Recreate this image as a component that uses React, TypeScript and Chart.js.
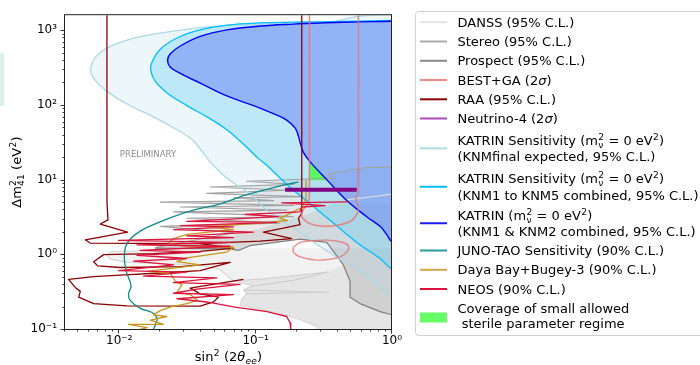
import React, { useEffect, useRef } from "react";
import { Chart, registerables } from "chart.js";

Chart.register(...registerables);

type Pt = [number, number];

// ---------------- axes ----------------
const X_RANGE: Pt = [0.004, 1];
const Y_RANGE: Pt = [0.1, 1590];
const xMajorTicks = [0.01, 0.1, 1];
const yMajorTicks = [0.1, 1, 10, 100, 1000];
const preliminaryPos: Pt = [0.0101, 21.6];

// ---------------- KATRIN ----------------
const katrinFinal: Pt[] = [
  [1.144, 1627], [0.567, 1532], [0.323, 1233], [0.224, 1257], [0.108, 1208], [0.0464, 1115],
  [0.02, 915], [0.0114, 735], [0.00726, 504], [0.0062, 323], [0.00649, 228], [0.00812, 153],
  [0.0114, 103], [0.0178, 69.3], [0.0265, 46.6], [0.0341, 34.6], [0.0392, 25.7], [0.0464, 17.3],
  [0.0615, 10.5], [0.0911, 6.4], [0.121, 3.89], [0.212, 1.95], [0.372, 0.971], [0.583, 0.591],
  [0.817, 0.36], [1.0, 0.262], [1.144, 0.262],
];
const katrinKnm15: Pt[] = [
  [1.144, 1360], [0.273, 1295], [0.189, 1282], [0.108, 1257], [0.0615, 1172], [0.0392, 1010],
  [0.0265, 788], [0.02, 557], [0.0174, 374], [0.017, 292], [0.0184, 206], [0.0223, 146],
  [0.0313, 98], [0.0439, 69.3], [0.0615, 46.6], [0.0838, 28.4], [0.105, 19.1], [0.124, 14.9],
  [0.169, 8.62], [0.251, 4.75], [0.372, 2.62], [0.551, 1.444], [0.817, 0.879], [1.0, 0.634],
  [1.144, 0.634],
];
const katrinKnm12: Pt[] = [
  [1.144, 1361], [0.994, 1320], [0.583, 1295], [0.332, 1257], [0.189, 1208], [0.108, 1138],
  [0.0615, 1010], [0.0392, 828], [0.028, 615], [0.0236, 480], [0.0226, 393], [0.0236, 323],
  [0.028, 264], [0.0392, 196], [0.0615, 132], [0.0964, 98], [0.135, 76.5], [0.169, 62.7],
  [0.195, 48.9], [0.206, 38.2], [0.212, 31.3], [0.224, 23.2], [0.251, 17.3], [0.332, 10.0],
  [0.466, 5.25], [0.652, 3.19], [0.817, 2.37], [0.914, 1.85], [1.0, 1.473], [1.144, 1.473],
];
const coverage: Pt[] = [[0.2479, 17.8], [0.2479, 9.8], [0.336, 9.8]];

// ---------------- reactor / source experiments ----------------
const danssRegion: Pt[] = [
  [0.00812, 0.971], [0.00884, 1.093], [0.01687, 1.115], [0.0392, 1.16], [0.077, 1.207], [1.144, 1.207],
  [1.144, 0.0897], [0.2886, 0.0897], [0.2806, 0.1093], [0.2118, 0.1334], [0.1512, 0.1626],
  [0.1079, 0.1832], [0.077, 0.208], [0.0792, 0.254], [0.0861, 0.295], [0.0814, 0.332],
  [0.0964, 0.378], [0.0688, 0.439], [0.055, 0.621], [0.0392, 0.721], [0.02, 0.75],
  [0.01138, 0.78], [0.00859, 0.862],
];
const danssEdge: Pt[] = [
  [0.077, 1.207], [0.0392, 1.16], [0.01687, 1.115], [0.00884, 1.093], [0.00812, 0.971],
  [0.00859, 0.862], [0.01138, 0.78], [0.02, 0.75], [0.0392, 0.721], [0.055, 0.621],
  [0.0688, 0.439], [0.0964, 0.378], [0.0814, 0.332], [0.0861, 0.295], [0.0792, 0.254],
  [0.077, 0.208], [0.1079, 0.1832], [0.1512, 0.1626], [0.2118, 0.1334], [0.2806, 0.1093],
  [0.2886, 0.0897],
];
const danssSpikes: Pt[] = [
  [0.0688, 0.439], [0.1207, 0.475], [0.3416, 0.579], [0.1893, 0.448], [0.0964, 0.378],
  [0.0814, 0.332], [0.3416, 0.31], [0.0861, 0.295],
];
const danssHigh: Pt[] = [[0.465, 5.35], [0.652, 5.79], [1.0, 6.4]];
const stereoLow: Pt[] = [
  [0.0688, 0.439], [0.1207, 0.475], [0.3416, 0.579], [0.4399, 0.721], [0.4923, 0.439],
  [0.4923, 0.267], [0.5827, 0.219], [0.8168, 0.171], [1.0, 0.155], [1.144, 0.155],
  [1.144, 0.0897], [0.2886, 0.0897], [0.2806, 0.1093], [0.2118, 0.1334], [0.1512, 0.1626],
  [0.1079, 0.1832], [0.077, 0.208], [0.0792, 0.254], [0.0861, 0.295], [0.0814, 0.332],
  [0.0964, 0.378],
];
const stereoSpikes: Pt[] = [
  [1.144, 14.73], [0.634, 14.44], [0.3416, 11.84], [0.3717, 10.51], [0.0861, 9.515],
  [0.1893, 8.617], [0.0464, 7.96], [0.1691, 7.208], [0.0439, 6.526], [0.2118, 5.909],
  [0.0688, 5.679], [0.1351, 5.245], [0.02, 4.993], [0.1893, 4.52], [0.028, 4.3],
  [0.1691, 3.895], [0.025, 3.707], [0.1893, 3.194], [0.0313, 3.04], [0.1512, 2.619],
  [0.02, 2.371], [0.0688, 1.945], [0.0189, 1.244], [0.01835, 1.207],
];
const prospectEdge: Pt[] = [
  [0.01835, 1.207], [0.065, 1.184], [0.0748, 1.126], [0.0911, 1.307], [0.2118, 1.594],
  [0.3321, 1.444], [0.4399, 0.721], [0.4923, 0.439], [0.4923, 0.267], [0.5827, 0.219],
  [0.8168, 0.171], [1.0, 0.155],
];
const prospectRegion: Pt[] = [
  ...prospectEdge, [1.144, 0.155], [1.144, 4.75], [0.3717, 4.75], [0.2118, 3.194],
  [0.0688, 1.761], [0.02, 1.444],
];
const stereoRegion: Pt[] = [...stereoSpikes, ...prospectEdge, [1.144, 0.155]];

const raaLeft: Pt[] = [
  [0.00812, 2234], [0.00812, 5.245], [0.00826, 2.892], [0.00726, 2.542], [0.01151, 1.984],
  [0.00563, 1.563], [0.00613, 1.415], [0.0392, 1.387], [0.0688, 1.207], [0.0392, 1.093],
  [0.0178, 1.02], [0.00768, 0.99], [0.00649, 0.796], [0.00694, 0.7], [0.01017, 0.666],
  [0.028, 0.686], [0.065, 0.78], [0.0392, 0.603], [0.02, 0.562], [0.01017, 0.525],
  [0.00649, 0.504], [0.00425, 0.461], [0.00476, 0.36], [0.00518, 0.319], [0.00504, 0.267],
  [0.00649, 0.219], [0.01138, 0.204], [0.0392, 0.202], [0.0491, 0.23], [0.0534, 0.267],
  [0.0392, 0.295], [0.0331, 0.353], [0.0814, 0.461],
];
const raaRight: Pt[] = [
  [0.2179, 2234], [0.2179, 3.527], [0.206, 3.04], [0.2118, 2.493], [0.16, 2.234],
  [0.1141, 1.984], [0.1841, 1.626], [0.1079, 1.502], [0.0392, 1.387],
];
const bestMain: Pt[] = [
  [0.2479, 2234], [0.2479, 5.794], [0.2438, 4.993], [0.2305, 4.3], [0.2179, 3.527],
  [0.2216, 3.04], [0.2507, 2.567], [0.314, 2.371], [0.4159, 2.493], [0.5063, 2.835],
  [0.5571, 3.527], [0.5666, 4.52], [0.5447, 5.245], [0.5447, 5.794], [0.5666, 6.723],
  [0.5666, 2234],
];
const bestIsland: Pt[] = [
  [0.1893, 1.244], [0.2118, 1.444], [0.2652, 1.517], [0.3321, 1.547], [0.4159, 1.473],
  [0.4786, 1.307], [0.4654, 1.072], [0.4159, 0.924], [0.3513, 0.862], [0.2806, 0.837],
  [0.2118, 0.924], [0.1893, 1.072], [0.1893, 1.244],
];
const neos: Pt[] = [
  [0.4786, 5.041], [0.1555, 4.894], [0.3229, 4.476], [0.2179, 4.3], [0.2118, 3.707],
  [0.0837, 3.423], [0.147, 3.194], [0.0313, 2.753], [0.1429, 2.672], [0.028, 2.419],
  [0.0688, 2.325], [0.025, 2.147], [0.0964, 1.984], [0.0313, 1.761], [0.0688, 1.675],
  [0.00989, 1.532], [0.065, 1.444], [0.01347, 1.334], [0.065, 1.282], [0.01425, 1.126],
  [0.0392, 1.072], [0.01347, 0.971], [0.0313, 0.879], [0.01274, 0.812], [0.025, 0.721],
  [0.00989, 0.603], [0.0313, 0.579], [0.01508, 0.509], [0.0519, 0.485], [0.025, 0.418],
  [0.077, 0.397], [0.0371, 0.342], [0.025, 0.301], [0.0688, 0.289], [0.0265, 0.254],
  [0.0439, 0.23], [0.0688, 0.198], [0.121, 0.171], [0.169, 0.147], [0.179, 0.121],
  [0.181, 0.0942],
];
const dayaBayBugey: Pt[] = [
  [0.2344, 9.8], [0.2344, 5.511], [0.2179, 4.217], [0.1872, 3.67], [0.1512, 3.04],
  [0.171, 2.835], [0.1079, 2.619], [0.0439, 2.325], [0.0688, 2.147], [0.0313, 1.85],
  [0.025, 1.626], [0.023, 1.415], [0.0313, 1.269], [0.0688, 1.244], [0.0615, 1.072],
  [0.0313, 0.897], [0.0265, 0.796], [0.0392, 0.721], [0.016, 0.591], [0.0236, 0.562],
  [0.0257, 0.439], [0.0288, 0.39], [0.0265, 0.31], [0.0331, 0.289], [0.0375, 0.242],
  [0.0313, 0.219], [0.0239, 0.198], [0.02, 0.176], [0.0178, 0.155], [0.0223, 0.147],
  [0.0169, 0.131], [0.0211, 0.115], [0.0117, 0.115], [0.016, 0.104], [0.0127, 0.0942],
];
const junoTao: Pt[] = [
  [0.206, 9.237], [0.169, 8.617], [0.121, 7.426], [0.0814, 6.088], [0.055, 4.75],
  [0.035, 3.895], [0.025, 3.194], [0.0178, 2.493], [0.01425, 2.043], [0.012, 1.594],
  [0.0111, 1.244], [0.0109, 0.879], [0.01125, 0.591], [0.0122, 0.378], [0.0117, 0.295],
  [0.012, 0.242], [0.01425, 0.189], [0.0174, 0.166], [0.0189, 0.14], [0.0184, 0.115],
  [0.0177, 0.0942],
];
const neutrino4: Pt[] = [[0.1644, 7.31], [0.551, 7.31]];

// ---------------- text helpers ----------------
const FONT = '"DejaVu Sans", "Liberation Sans", sans-serif';
const SUP_MAP: Record<string, string> = {
  "-": "\u207B", "0": "\u2070", "1": "\u00B9", "2": "\u00B2", "3": "\u00B3",
};
const powLabel = (v: number) =>
  "10" + String(Math.round(Math.log10(v))).split("").map((c) => SUP_MAP[c] ?? c).join("");

type Seg = { t?: string; it?: boolean; sup?: string; sub?: string; subIt?: boolean };
const fnt = (size: number, it?: boolean) => `${it ? "italic " : ""}${size}px ${FONT}`;

function segsWidth(ctx: CanvasRenderingContext2D, segs: Seg[], size: number) {
  let w = 0;
  for (const s of segs) {
    if (s.t !== undefined) {
      ctx.font = fnt(size, s.it);
      w += ctx.measureText(s.t).width;
    } else {
      const small = size * 0.7;
      let sw = 0;
      if (s.sup) { ctx.font = fnt(small); sw = Math.max(sw, ctx.measureText(s.sup).width); }
      if (s.sub) { ctx.font = fnt(small, s.subIt); sw = Math.max(sw, ctx.measureText(s.sub).width); }
      w += sw + 0.6;
    }
  }
  return w;
}

function drawSegs(ctx: CanvasRenderingContext2D, segs: Seg[], x: number, y: number, size: number) {
  let cx = x;
  ctx.textAlign = "left";
  ctx.textBaseline = "alphabetic";
  for (const s of segs) {
    if (s.t !== undefined) {
      ctx.font = fnt(size, s.it);
      ctx.fillText(s.t, cx, y);
      cx += ctx.measureText(s.t).width;
    } else {
      const small = size * 0.7;
      let sw = 0;
      if (s.sup) {
        ctx.font = fnt(small);
        ctx.fillText(s.sup, cx + 0.3, y - size * 0.36);
        sw = Math.max(sw, ctx.measureText(s.sup).width);
      }
      if (s.sub) {
        ctx.font = fnt(small, s.subIt);
        ctx.fillText(s.sub, cx + 0.3, y + size * 0.24);
        sw = Math.max(sw, ctx.measureText(s.sub).width);
      }
      cx += sw + 0.6;
    }
  }
}

const katrinSensHead: Seg[] = [
  { t: "KATRIN Sensitivity (m" }, { sup: "2", sub: "\u03BD" }, { t: " = 0 eV" }, { sup: "2" }, { t: ")" },
];

type LegendEntry = { color?: string; patch?: string; lines: Seg[][]; base: number[] };
const legendEntries: LegendEntry[] = [
  { color: "#e2e2e2", lines: [[{ t: "DANSS (95% C.L.)" }]], base: [26.7] },
  { color: "#a9a9a9", lines: [[{ t: "Stereo (95% C.L.)" }]], base: [46] },
  { color: "#8a8a8a", lines: [[{ t: "Prospect (95% C.L.)" }]], base: [65.3] },
  { color: "#ec8a8a", lines: [[{ t: "BEST+GA (2" }, { t: "\u03C3", it: true }, { t: ")" }]], base: [84.5] },
  { color: "#8b0000", lines: [[{ t: "RAA (95% C.L.)" }]], base: [103.8] },
  { color: "#b048b8", lines: [[{ t: "Neutrino-4 (2" }, { t: "\u03C3", it: true }, { t: ")" }]], base: [123] },
  { color: "#add8e6", lines: [katrinSensHead, [{ t: "(KNMfinal expected, 95% C.L.)" }]], base: [144.5, 161.2] },
  { color: "#00bfff", lines: [katrinSensHead, [{ t: "(KNM1 to KNM5 combined, 95% C.L.)" }]], base: [183, 199.5] },
  {
    color: "#1a1aff",
    lines: [
      [{ t: "KATRIN (m" }, { sup: "2", sub: "\u03BD" }, { t: " = 0 eV" }, { sup: "2" }, { t: ")" }],
      [{ t: "(KNM1 & KNM2 combined, 95% C.L.)" }],
    ],
    base: [219.5, 236],
  },
  { color: "#2a9b9b", lines: [[{ t: "JUNO-TAO Sensitivity (90% C.L.)" }]], base: [255] },
  { color: "#d2a64c", lines: [[{ t: "Daya Bay+Bugey-3 (90% C.L.)" }]], base: [274.3] },
  { color: "#dc143c", lines: [[{ t: "NEOS (90% C.L.)" }]], base: [293.5] },
  { patch: "#66ff66", lines: [[{ t: "Coverage of small allowed" }], [{ t: " sterile parameter regime" }]], base: [312.7, 327.5] },
];

// ---------------- datasets ----------------
const toXY = (a: Pt[]) => a.map(([x, y]) => ({ x, y }));
const fillDs = (data: Pt[], color: string, tension = 0) => ({
  data: toXY(data), polyFill: color, showLine: false, pointRadius: 0, borderWidth: 0, fill: false,
  tension, capBezierPoints: false,
});
const lineDs = (data: Pt[], color: string, width = 1.3, tension = 0) => ({
  data: toXY(data), borderColor: color, borderWidth: width, pointRadius: 0, fill: false,
  tension, capBezierPoints: false, borderJoinStyle: "round", borderCapStyle: "butt",
});

const SMOOTH = 0.4;
const layersBottomToTop = [
  fillDs(danssRegion, "rgba(200,200,200,0.25)"),
  fillDs(stereoLow, "rgba(150,150,150,0.12)"),
  fillDs(prospectRegion, "rgba(128,128,128,0.18)"),
  fillDs(stereoRegion, "rgba(150,150,150,0.18)"),
  fillDs(katrinFinal, "rgba(173,216,230,0.22)", SMOOTH),
  fillDs(katrinKnm15, "rgba(100,205,240,0.35)", SMOOTH),
  fillDs(katrinKnm12, "rgba(112,137,245,0.55)", SMOOTH),
  fillDs(coverage, "rgba(70,255,70,0.85)"),
  lineDs(danssEdge, "#d6d6d6", 1.1),
  lineDs(danssSpikes, "#cfcfcf", 1.1),
  lineDs(danssHigh, "#dadada", 1.2),
  lineDs(stereoSpikes, "#a3a3a3", 1.2),
  lineDs(prospectEdge, "#7f7f7f", 1.2),
  lineDs(katrinFinal, "#add8e6", 1.3, SMOOTH),
  lineDs(katrinKnm15, "#00bfff", 1.3, SMOOTH),
  lineDs(katrinKnm12, "#0000ff", 1.4, SMOOTH),
  lineDs(raaLeft, "#8b0000", 1.3),
  lineDs(raaRight, "#8b0000", 1.3),
  lineDs(bestMain, "rgba(232,115,115,0.8)", 1.6, 0.25),
  lineDs(bestIsland, "rgba(232,115,115,0.8)", 1.4, SMOOTH),
  lineDs(junoTao, "#138a8a", 1.3, SMOOTH),
  lineDs(dayaBayBugey, "#c8961e", 1.3),
  lineDs(neos, "#dc143c", 1.3),
  lineDs(neutrino4, "#800080", 4),
];

// ---------------- plugin ----------------
const decorPlugin = {
  id: "decor",
  beforeDatasetDraw(chart: any, args: any) {
    const ds = chart.data.datasets[args.index];
    if (!ds.polyFill) return;
    const { ctx, chartArea: a } = chart;
    const line = args.meta.dataset;
    ctx.save();
    ctx.beginPath();
    ctx.rect(a.left, a.top, a.right - a.left, a.bottom - a.top);
    ctx.clip();
    ctx.beginPath();
    let done = false;
    if (line && typeof line.path === "function") {
      try {
        if (typeof line.updateControlPoints === "function") line.updateControlPoints(a, "x");
        line.path(ctx);
        done = true;
      } catch (e) {
        ctx.beginPath();
        done = false;
      }
    }
    if (!done) {
      args.meta.data.forEach((p: any, i: number) => (i ? ctx.lineTo(p.x, p.y) : ctx.moveTo(p.x, p.y)));
    }
    ctx.closePath();
    ctx.fillStyle = ds.polyFill;
    ctx.fill();
    ctx.restore();
  },
  afterDraw(chart: any) {
    const { ctx, chartArea: a, scales } = chart;
    const xs = scales.x;
    const ys = scales.y;
    ctx.save();

    // frame
    ctx.strokeStyle = "#222";
    ctx.lineWidth = 1;
    ctx.strokeRect(a.left - 0.5, a.top - 0.5, a.right - a.left, a.bottom - a.top + 1);

    // ticks
    ctx.beginPath();
    const xb = a.bottom + 0.5;
    const yl = a.left - 0.5;
    for (let d = -3; d <= 0; d++) {
      for (let k = 1; k <= 9; k++) {
        const v = k * Math.pow(10, d);
        if (v < X_RANGE[0] - 1e-12 || v > X_RANGE[1] + 1e-12) continue;
        const px = Math.round(xs.getPixelForValue(v)) - 0.5;
        const len = k === 1 ? 4 : 2;
        ctx.moveTo(px, xb);
        ctx.lineTo(px, xb + len);
      }
    }
    for (let d = -1; d <= 3; d++) {
      for (let k = 1; k <= 9; k++) {
        const v = k * Math.pow(10, d);
        if (v < Y_RANGE[0] - 1e-12 || v > Y_RANGE[1]) continue;
        const py = Math.round(ys.getPixelForValue(v)) + 0.5;
        const len = k === 1 ? 4 : 2;
        ctx.moveTo(yl, py);
        ctx.lineTo(yl - len, py);
      }
    }
    ctx.strokeStyle = "#222";
    ctx.lineWidth = 0.9;
    ctx.stroke();

    // PRELIMINARY
    ctx.fillStyle = "#8c8c8c";
    ctx.font = fnt(8.5);
    ctx.textAlign = "left";
    ctx.textBaseline = "middle";
    ctx.fillText("PRELIMINARY", xs.getPixelForValue(preliminaryPos[0]), ys.getPixelForValue(preliminaryPos[1]));

    // axis titles
    ctx.fillStyle = "#000";
    const xTitle: Seg[] = [
      { t: "sin" }, { sup: "2" }, { t: " (2" }, { t: "\u03B8", it: true }, { sub: "ee", subIt: true }, { t: ")" },
    ];
    const wx = segsWidth(ctx, xTitle, 13);
    drawSegs(ctx, xTitle, (a.left + a.right) / 2 - wx / 2, 360.5, 13);

    const yTitle: Seg[] = [{ t: "\u0394m" }, { sup: "2", sub: "41" }, { t: " (eV" }, { sup: "2" }, { t: ")" }];
    const wy = segsWidth(ctx, yTitle, 13);
    ctx.save();
    ctx.translate(21, (a.top + a.bottom) / 2);
    ctx.rotate(-Math.PI / 2);
    drawSegs(ctx, yTitle, -wy / 2, 0, 13);
    ctx.restore();

    // legend
    const lx0 = 415.5, ly0 = 11.5, lx1 = 712, ly1 = 335.5, r = 3;
    ctx.beginPath();
    ctx.moveTo(lx0 + r, ly0);
    ctx.lineTo(lx1, ly0);
    ctx.lineTo(lx1, ly1);
    ctx.lineTo(lx0 + r, ly1);
    ctx.arcTo(lx0, ly1, lx0, ly1 - r, r);
    ctx.lineTo(lx0, ly0 + r);
    ctx.arcTo(lx0, ly0, lx0 + r, ly0, r);
    ctx.closePath();
    ctx.fillStyle = "rgba(255,255,255,0.85)";
    ctx.fill();
    ctx.strokeStyle = "#d0d0d0";
    ctx.lineWidth = 1;
    ctx.stroke();

    for (const e of legendEntries) {
      const midBase = e.base.reduce((s, b) => s + b, 0) / e.base.length;
      const hy = midBase - 4.5;
      if (e.patch) {
        ctx.fillStyle = e.patch;
        ctx.fillRect(420, 312.5, 27, 10);
      } else if (e.color) {
        ctx.beginPath();
        ctx.moveTo(420, hy);
        ctx.lineTo(447, hy);
        ctx.strokeStyle = e.color;
        ctx.lineWidth = 2;
        ctx.stroke();
      }
      ctx.fillStyle = "#000";
      e.lines.forEach((segs, i) => drawSegs(ctx, segs, 457.5, e.base[i], 13));
    }
    ctx.restore();
  },
};

export default function App() {
  const ref = useRef<HTMLCanvasElement>(null);
  useEffect(() => {
    if (!ref.current) return;
    const chart = new Chart(ref.current, {
      type: "line",
      data: { datasets: layersBottomToTop.slice().reverse() as any },
      options: {
        animation: false,
        responsive: false,
        maintainAspectRatio: false,
        events: [],
        layout: { padding: { left: 0, right: 308, top: 5, bottom: 0 } },
        plugins: { legend: { display: false }, tooltip: { enabled: false } },
        scales: {
          x: {
            type: "logarithmic",
            min: X_RANGE[0],
            max: X_RANGE[1],
            bounds: "data",
            grid: { display: false, drawTicks: false },
            border: { display: false },
            afterBuildTicks: (s: any) => { s.ticks = xMajorTicks.map((v) => ({ value: v })); },
            afterFit: (s: any) => { s.height = 36; },
            ticks: {
              autoSkip: false,
              maxRotation: 0,
              padding: 5,
              color: "#000",
              font: { family: FONT, size: 12 },
              callback: (v: any) => powLabel(Number(v)),
            },
          },
          y: {
            type: "logarithmic",
            min: Y_RANGE[0],
            max: Y_RANGE[1],
            bounds: "data",
            grid: { display: false, drawTicks: false },
            border: { display: false },
            afterBuildTicks: (s: any) => { s.ticks = yMajorTicks.map((v) => ({ value: v })); },
            afterFit: (s: any) => { s.width = 65; },
            ticks: {
              autoSkip: false,
              padding: 8,
              color: "#000",
              font: { family: FONT, size: 12 },
              callback: (v: any) => powLabel(Number(v)),
            },
          },
        },
      } as any,
      plugins: [decorPlugin as any],
    });
    return () => chart.destroy();
  }, []);

  return (
    <div style={{ position: "absolute", left: 0, top: 0, width: 700, height: 365, background: "#fff", overflow: "hidden" }}>
      <canvas ref={ref} width={700} height={365} style={{ display: "block", width: 700, height: 365 }} />
      <div style={{ position: "absolute", left: 0, top: 53, width: 4, height: 53, background: "#dcefeb" }} />
    </div>
  );
}
